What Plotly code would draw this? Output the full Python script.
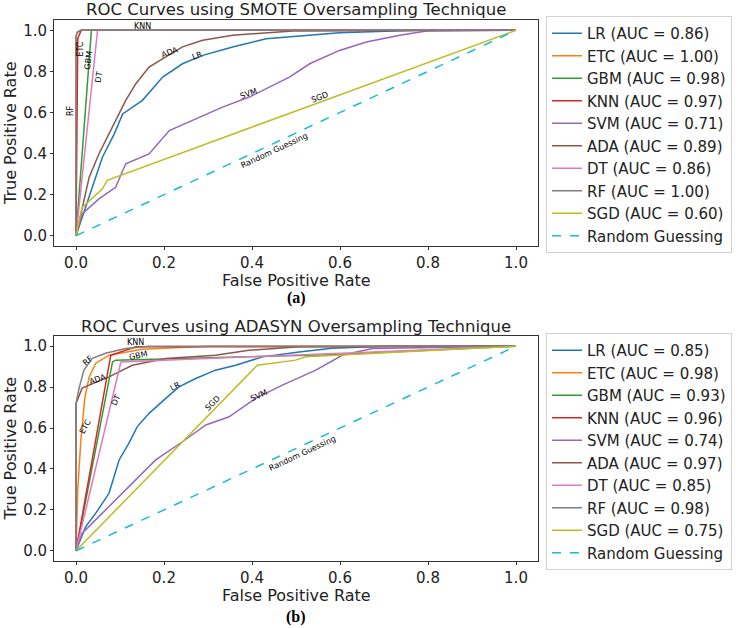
import plotly.graph_objects as go

# ---------------- data ----------------
models = ["LR", "ETC", "GBM", "KNN", "SVM", "ADA", "DT", "RF", "SGD"]
colors = ["#1f77b4", "#ff7f0e", "#2ca02c", "#d62728", "#9467bd",
          "#8c564b", "#e377c2", "#7f7f7f", "#bcbd22"]
random_color = "#17becf"

smote_auc = [0.86, 1.00, 0.98, 0.97, 0.71, 0.89, 0.86, 1.00, 0.60]
adasyn_auc = [0.85, 0.98, 0.93, 0.96, 0.74, 0.97, 0.85, 0.98, 0.75]

# SMOTE curves (FPR, TPR)
smote_lr_fpr = [0, 0.037, 0.060, 0.087, 0.106, 0.151, 0.197, 0.242, 0.288, 0.356, 0.432, 0.599, 0.774, 1.0]
smote_lr_tpr = [0, 0.236, 0.382, 0.496, 0.593, 0.659, 0.772, 0.837, 0.878, 0.919, 0.959, 0.988, 1.0, 1.0]
smote_etc_fpr = [0, 0.0, 0.003, 0.012, 1.0]
smote_etc_tpr = [0, 0.97, 0.99, 1.0, 1.0]
smote_gbm_fpr = [0, 0.035, 1.0]
smote_gbm_tpr = [0, 1.0, 1.0]
smote_knn_fpr = [0, 0.004, 0.012, 1.0]
smote_knn_tpr = [0, 0.96, 1.0, 1.0]
smote_svm_fpr = [0, 0.014, 0.052, 0.090, 0.113, 0.166, 0.212, 0.280, 0.333, 0.394, 0.432, 0.485, 0.531, 0.599, 0.660, 0.736, 0.797, 1.0]
smote_svm_tpr = [0, 0.106, 0.179, 0.236, 0.350, 0.398, 0.512, 0.577, 0.626, 0.675, 0.716, 0.772, 0.837, 0.902, 0.943, 0.976, 0.997, 1.0]
smote_ada_fpr = [0, 0.030, 0.052, 0.090, 0.113, 0.136, 0.166, 0.204, 0.242, 0.288, 0.356, 0.493, 1.0]
smote_ada_tpr = [0, 0.285, 0.398, 0.561, 0.659, 0.740, 0.821, 0.870, 0.919, 0.951, 0.976, 0.997, 1.0]
smote_dt_fpr = [0, 0.049, 1.0]
smote_dt_tpr = [0, 1.0, 1.0]
smote_rf_fpr = [0, 0.0, 0.003, 0.010, 1.0]
smote_rf_tpr = [0, 0.97, 0.99, 1.0, 1.0]
smote_sgd_fpr = [0, 0.014, 0.060, 0.071, 1.0]
smote_sgd_tpr = [0, 0.138, 0.228, 0.270, 1.0]

# ADASYN curves (FPR, TPR)
adasyn_lr_fpr = [0, 0.022, 0.045, 0.075, 0.098, 0.120, 0.139, 0.166, 0.204, 0.234, 0.272, 0.317, 0.363, 0.424, 0.507, 0.582, 0.70, 1.0]
adasyn_lr_tpr = [0, 0.118, 0.184, 0.281, 0.444, 0.525, 0.606, 0.672, 0.745, 0.801, 0.842, 0.883, 0.907, 0.948, 0.972, 0.990, 1.0, 1.0]
adasyn_etc_fpr = [0, 0.004, 0.011, 0.020, 0.030, 0.045, 0.075, 0.150, 0.300, 1.0]
adasyn_etc_tpr = [0, 0.30, 0.54, 0.746, 0.85, 0.917, 0.956, 0.985, 1.0, 1.0]
adasyn_gbm_fpr = [0, 0.083, 0.090, 0.300, 0.600, 0.750, 1.0]
adasyn_gbm_tpr = [0, 0.923, 0.932, 0.945, 0.960, 0.975, 1.0]
adasyn_knn_fpr = [0, 0.079, 0.136, 1.0]
adasyn_knn_tpr = [0, 0.956, 0.997, 1.0]
adasyn_svm_fpr = [0, 0.014, 0.052, 0.090, 0.128, 0.181, 0.242, 0.295, 0.348, 0.408, 0.469, 0.545, 0.605, 0.673, 1.0]
adasyn_svm_tpr = [0, 0.086, 0.167, 0.249, 0.330, 0.444, 0.533, 0.615, 0.655, 0.745, 0.810, 0.883, 0.956, 0.989, 1.0]
adasyn_ada_fpr = [0, 0.0, 0.014, 0.030, 0.075, 0.128, 0.204, 0.317, 0.393, 0.507, 1.0]
adasyn_ada_tpr = [0, 0.72, 0.795, 0.810, 0.850, 0.907, 0.940, 0.956, 0.980, 0.997, 1.0]
adasyn_dt_fpr = [0, 0.102, 1.0]
adasyn_dt_tpr = [0, 0.923, 1.0]
adasyn_rf_fpr = [0, 0.0, 0.007, 0.018, 0.037, 0.067, 0.113, 0.166, 1.0]
adasyn_rf_tpr = [0, 0.72, 0.795, 0.883, 0.941, 0.966, 0.989, 1.0, 1.0]
adasyn_sgd_fpr = [0, 0.412, 0.499, 0.522, 1.0]
adasyn_sgd_tpr = [0, 0.907, 0.932, 0.948, 1.0]

random_fpr = [0, 1]
random_tpr = [0, 1]

smote_curves = [
    (smote_lr_fpr, smote_lr_tpr), (smote_etc_fpr, smote_etc_tpr), (smote_gbm_fpr, smote_gbm_tpr),
    (smote_knn_fpr, smote_knn_tpr), (smote_svm_fpr, smote_svm_tpr), (smote_ada_fpr, smote_ada_tpr),
    (smote_dt_fpr, smote_dt_tpr), (smote_rf_fpr, smote_rf_tpr), (smote_sgd_fpr, smote_sgd_tpr)]
adasyn_curves = [
    (adasyn_lr_fpr, adasyn_lr_tpr), (adasyn_etc_fpr, adasyn_etc_tpr), (adasyn_gbm_fpr, adasyn_gbm_tpr),
    (adasyn_knn_fpr, adasyn_knn_tpr), (adasyn_svm_fpr, adasyn_svm_tpr), (adasyn_ada_fpr, adasyn_ada_tpr),
    (adasyn_dt_fpr, adasyn_dt_tpr), (adasyn_rf_fpr, adasyn_rf_tpr), (adasyn_sgd_fpr, adasyn_sgd_tpr)]

# in-plot curve labels: text, fpr, tpr, angle
smote_labels = [("KNN", 0.15, 1.018, 0), ("ADA", 0.212, 0.894, -20), ("LR", 0.276, 0.878, -20),
                ("SVM", 0.394, 0.69, -20), ("SGD", 0.553, 0.675, -20),
                ("Random Guessing", 0.451, 0.415, -25), ("RF", -0.012, 0.61, -90),
                ("ETC", 0.011, 0.91, -90), ("GBM", 0.028, 0.854, -82), ("DT", 0.051, 0.772, -82)]
adasyn_labels = [("KNN", 0.136, 1.018, 0), ("RF", 0.028, 0.928, -40), ("ADA", 0.048, 0.838, -20),
                 ("GBM", 0.143, 0.956, -12), ("ETC", 0.022, 0.606, -62), ("DT", 0.09, 0.737, -65),
                 ("LR", 0.225, 0.805, -30), ("SGD", 0.31, 0.72, -45), ("SVM", 0.416, 0.761, -25),
                 ("Random Guessing", 0.514, 0.477, -25)]

titles = ["ROC Curves using SMOTE Oversampling Technique",
          "ROC Curves using ADASYN Oversampling Technique"]
captions = ["(a)", "(b)"]

# ---------------- figure ----------------
W, H = 744, 628
def py(p):
    return (H - p) / H
def px(p):
    return p / W

fig = go.Figure()
FONT = "DejaVu Sans"

panels = [
    dict(curves=smote_curves, aucs=smote_auc, labels=smote_labels, xa="x", ya="y",
         legend="legend", top=20, bot=246, cap=298),
    dict(curves=adasyn_curves, aucs=adasyn_auc, labels=adasyn_labels, xa="x2", ya="y2",
         legend="legend2", top=336, bot=561, cap=617),
]

annotations = []
for k, p in enumerate(panels):
    for i, m in enumerate(models):
        fx, ty = p["curves"][i]
        fig.add_trace(go.Scatter(
            x=fx, y=ty, mode="lines", name=f"{m} (AUC = {p['aucs'][i]:.2f})",
            line=dict(color=colors[i], width=1.5), xaxis=p["xa"], yaxis=p["ya"],
            legend=p["legend"], legendgroup=f"g{k}_{i}"))
    fig.add_trace(go.Scatter(
        x=random_fpr, y=random_tpr, mode="lines", name="Random Guessing",
        line=dict(color=random_color, width=1.5, dash="dash"), xaxis=p["xa"], yaxis=p["ya"],
        legend=p["legend"], legendgroup=f"g{k}_r"))
    for (t, lx, ly, ang) in p["labels"]:
        annotations.append(dict(text=t, x=lx, y=ly, xref=p["xa"], yref=p["ya"], showarrow=False,
                                textangle=ang, font=dict(family=FONT, size=8, color="black")))
    # subplot title
    annotations.append(dict(text=titles[k], x=px(296), y=py(p["top"] - 10), xref="paper", yref="paper",
                            showarrow=False, xanchor="center", yanchor="middle",
                            font=dict(family=FONT, size=16.5, color="#222")))
    # axis titles
    annotations.append(dict(text="False Positive Rate", x=px(296), y=py(p["bot"] + 34), xref="paper",
                            yref="paper", showarrow=False, xanchor="center", yanchor="middle",
                            font=dict(family=FONT, size=16, color="#222")))
    annotations.append(dict(text="True Positive Rate", x=px(10), y=py((p["top"] + p["bot"]) / 2),
                            xref="paper", yref="paper", showarrow=False, textangle=-90,
                            xanchor="center", yanchor="middle",
                            font=dict(family=FONT, size=16, color="#222")))
    # caption
    annotations.append(dict(text=f"<b>{captions[k]}</b>", x=px(296), y=py(p["cap"]),
                            xref="paper", yref="paper", showarrow=False, xanchor="center", yanchor="middle",
                            font=dict(family="Liberation Serif", size=16, color="black")))

axis_common = dict(range=[-0.05, 1.05], showgrid=False, zeroline=False, showline=True, mirror=True,
                   linecolor="#333", linewidth=1, ticks="outside", ticklen=3, tickcolor="#333",
                   tickwidth=1, tickfont=dict(family=FONT, size=15, color="#222"),
                   tickvals=[0, 0.2, 0.4, 0.6, 0.8, 1.0], ticktext=["0.0", "0.2", "0.4", "0.6", "0.8", "1.0"])

xdom = [px(54), px(538)]
legend_common = dict(xanchor="left", yanchor="top", bordercolor="#d0d0d0",
                     borderwidth=1, bgcolor="white", tracegroupgap=0,
                     font=dict(family=FONT, size=15, color="#222"))
fig.update_layout(
    width=W, height=H, margin=dict(l=0, r=0, t=0, b=0),
    paper_bgcolor="white", plot_bgcolor="white",
    xaxis=dict(domain=xdom, anchor="y", **axis_common),
    yaxis=dict(domain=[py(246), py(20)], anchor="x", **axis_common),
    xaxis2=dict(domain=xdom, anchor="y2", **axis_common),
    yaxis2=dict(domain=[py(561), py(336)], anchor="x2", **axis_common),
    legend=dict(x=px(546), y=py(16), **legend_common),
    legend2=dict(x=px(546), y=py(333), **legend_common),
    annotations=annotations,
    showlegend=True,
)

fig.write_html("out.html", config={"displayModeBar": False},
               post_script="document.body.style.margin='0';document.body.style.overflow='hidden';")
